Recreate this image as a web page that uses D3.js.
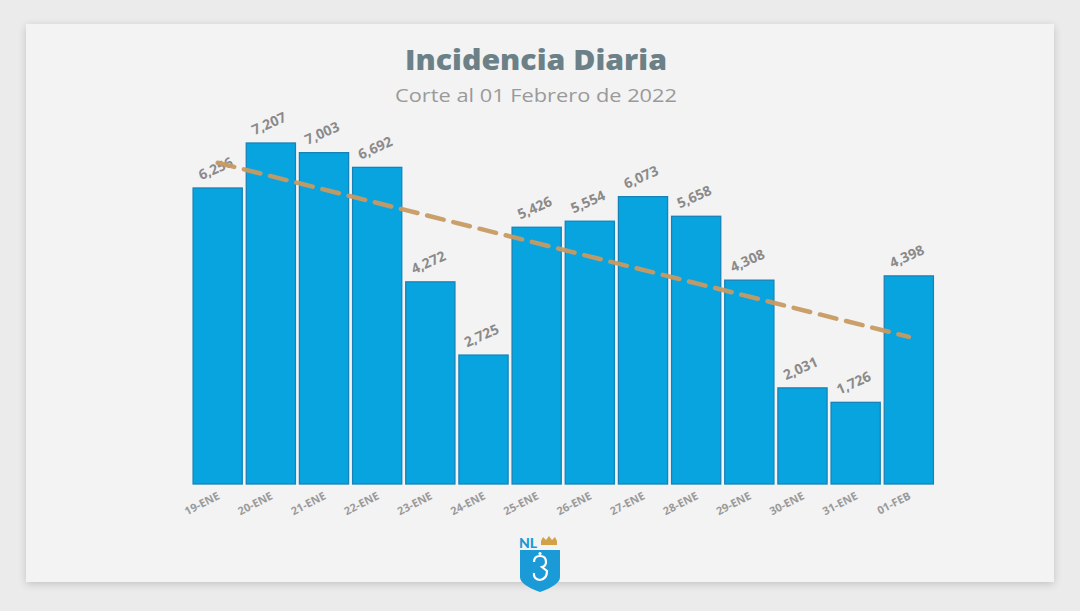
<!DOCTYPE html>
<html>
<head>
<meta charset="utf-8">
<script src="https://cdn.jsdelivr.net/npm/d3@7"></script>
<style>
html,body{margin:0;padding:0;background:#ebebeb;}
svg{display:block;}
</style>
</head>
<body>
<svg id="chart" width="1080" height="611"></svg>
<script>
const categories = ["19-ENE","20-ENE","21-ENE","22-ENE","23-ENE","24-ENE","25-ENE","26-ENE","27-ENE","28-ENE","29-ENE","30-ENE","31-ENE","01-FEB"];
const values = [6256,7207,7003,6692,4272,2725,5426,5554,6073,5658,4308,2031,1726,4398];
const trendCategories = ["19-ENE","01-FEB"];
const trendValues = [6790,3110];
const title = "Incidencia Diaria";
const subtitle = "Corte al 01 Febrero de 2022";

const svg = d3.select("#chart");
const defs = svg.append("defs");
const f = defs.append("filter").attr("id","sh").attr("x","-5%").attr("y","-5%").attr("width","110%").attr("height","110%");
f.append("feGaussianBlur").attr("in","SourceAlpha").attr("stdDeviation",4).attr("result","b");
f.append("feOffset").attr("in","b").attr("dy",2).attr("result","o");
f.append("feComponentTransfer").attr("in","o").attr("result","o2").append("feFuncA").attr("type","linear").attr("slope",0.18);
const m = f.append("feMerge"); m.append("feMergeNode").attr("in","o2"); m.append("feMergeNode").attr("in","SourceGraphic");

svg.append("rect").attr("width",1080).attr("height",611).attr("fill","#ebebeb");
svg.append("rect").attr("x",26).attr("y",24).attr("width",1028).attr("height",558).attr("fill","#f3f3f3").attr("filter","url(#sh)");

const x = d3.scaleBand().domain(categories).range([191.5,935]).paddingInner(0.075).paddingOuter(0.03);
const y = d3.scaleLinear().domain([0,7207]).range([484,143]);

svg.append("text").attr("x",536).attr("y",70).attr("text-anchor","middle")
  .attr("font-family","'Open Sans', Lato, sans-serif").attr("font-weight",800).attr("font-size",28)
  .attr("textLength",262).attr("lengthAdjust","spacingAndGlyphs")
  .attr("fill","#6b8187").text(title);
svg.append("text").attr("x",536).attr("y",102).attr("text-anchor","middle")
  .attr("font-family","'Open Sans', Lato, sans-serif").attr("font-size",18.5)
  .attr("textLength",282).attr("lengthAdjust","spacingAndGlyphs")
  .attr("fill","#9a9a9a").text(subtitle);

const g = svg.append("g");
g.selectAll("rect.bar").data(values).join("rect").attr("class","bar")
  .attr("x",(d,i)=>x(categories[i])).attr("width",x.bandwidth())
  .attr("y",d=>y(d)).attr("height",d=>y(0)-y(d))
  .attr("fill","#08a4e0").attr("stroke","#1683b8").attr("stroke-width",1.3);

// trend line
const line = d3.line().x((d,i)=>x(trendCategories[i])+x.bandwidth()/2).y(d=>y(d));
svg.append("path").datum(trendValues).attr("d",line)
  .attr("fill","none").attr("stroke","#c79a62").attr("stroke-width",4.5)
  .attr("stroke-dasharray","17,10").attr("stroke-linecap","round").attr("opacity",0.95);

// value labels
const fmt = d3.format(",");
g.selectAll("text.val").data(values).join("text").attr("class","val")
  .attr("transform",(d,i)=>`translate(${x(categories[i])+x.bandwidth()/2},${y(d)-15}) rotate(-24)`)
  .attr("text-anchor","middle")
  .attr("font-family","'Open Sans', Lato, sans-serif").attr("font-weight",700).attr("font-size",14)
  .attr("fill","#8a8a8a").text(d=>fmt(d));

// x axis labels
const xAxis = d3.axisBottom(x).tickSize(0).tickPadding(0);
const ax = svg.append("g").attr("transform","translate(0,492)").call(xAxis);
ax.select(".domain").remove();
ax.selectAll(".tick text")
  .attr("transform","translate(1,3) rotate(-27)")
  .attr("text-anchor","end").attr("dy","0.35em").attr("y",0)
  .attr("font-family","'Open Sans', Lato, sans-serif").attr("font-weight",700).attr("font-size",11)
  .attr("fill","#9a9a9a");

// logo
const lg = svg.append("g").attr("transform","translate(519,535)");
lg.append("text").attr("x",0).attr("y",13).attr("font-family","Lato, sans-serif").attr("font-weight",900)
  .attr("font-size",14).attr("fill","#1a9ad6").text("NL");
lg.append("path").attr("d","M22,6 L24,2 L27,5 L30,1 L33,5 L36,2 L38,6 L38,10 L22,10 Z").attr("fill","#d2a24a");
lg.append("path").attr("d","M1,15 L41,15 L41,42 Q41,50 21,57 Q1,50 1,42 Z").attr("fill","#1a9ad6");
lg.append("path").attr("d","M15,27 Q15,21 21,21 Q27,21 27,27 Q27,31 23,32 L28,36 Q28,44 21,45 Q14,44 15,38")
  .attr("fill","none").attr("stroke","#fff").attr("stroke-width",2.2);
lg.append("circle").attr("cx",21).attr("cy",18.5).attr("r",1.6).attr("fill","#fff");
</script>
</body>
</html>
